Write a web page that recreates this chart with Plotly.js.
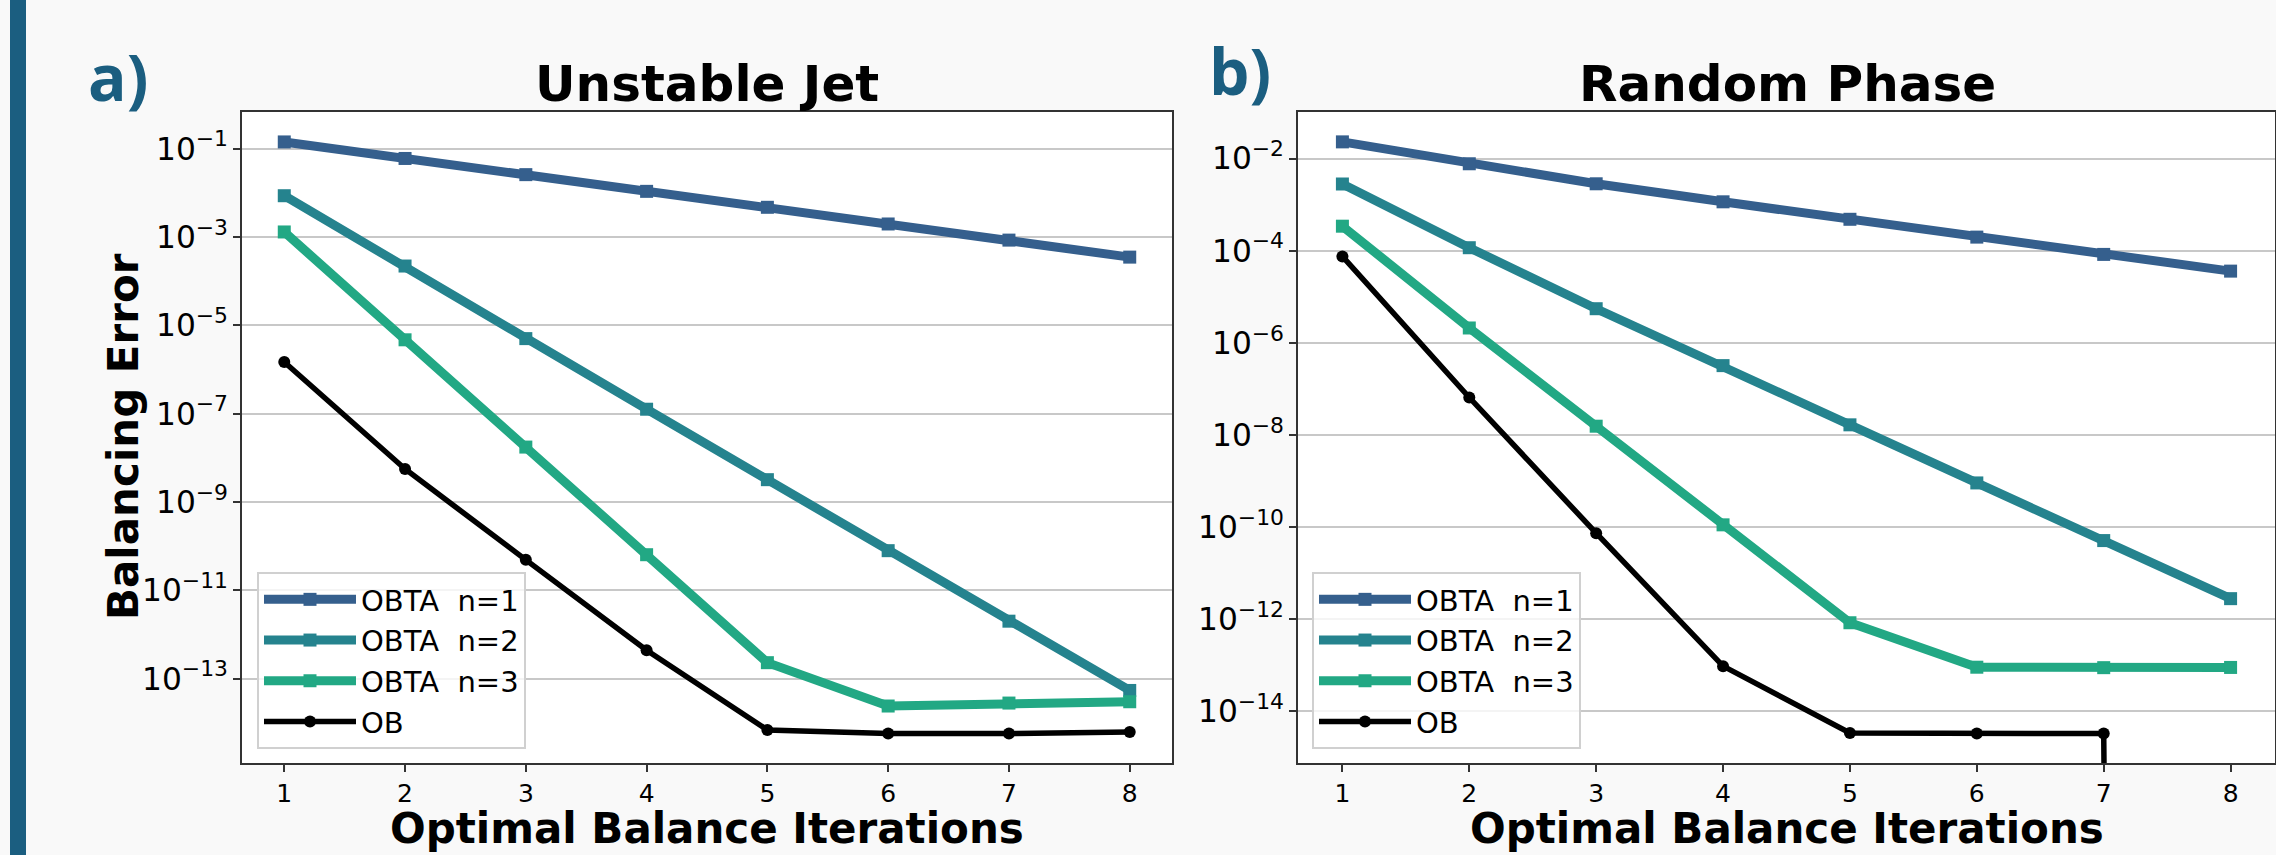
<!DOCTYPE html>
<html>
<head>
<meta charset="utf-8">
<script src="https://cdn.plot.ly/plotly-3.0.1.min.js"></script>
<style>html,body{margin:0;padding:0;background:#f9f9f9;}#chart{width:2276px;height:855px;}</style>
</head>
<body>
<div id="chart"></div>
<script>
// ---- data ----
const iterations = [1, 2, 3, 4, 5, 6, 7, 8];
const seriesNames = ["OBTA\u00a0 n=1", "OBTA\u00a0 n=2", "OBTA\u00a0 n=3", "OB"];
const panelTitles = ["Unstable Jet", "Random Phase"];
const panelLetters = ["a)", "b)"];
const xLabel = "Optimal Balance Iterations";
const yLabel = "Balancing Error";

// Unstable Jet
const ujN1 = [0.142, 0.060, 0.0258, 0.0108, 0.0047, 0.00197, 8.5e-4, 3.5e-4];
const ujN2 = [8.6e-3, 2.2e-4, 5.0e-6, 1.26e-7, 3.2e-9, 7.9e-11, 2.0e-12, 5.4e-14];
const ujN3 = [1.3e-3, 4.7e-6, 1.75e-8, 6.4e-11, 2.3e-13, 2.4e-14, 2.8e-14, 3.0e-14];
const ujOB = [1.48e-6, 5.6e-9, 4.9e-11, 4.4e-13, 6.9e-15, 5.7e-15, 5.7e-15, 6.2e-15];

// Random Phase
const rpN1 = [0.023, 7.7e-3, 2.83e-3, 1.15e-3, 4.8e-4, 1.97e-4, 8.3e-5, 3.6e-5];
const rpN2 = [2.8e-3, 1.16e-4, 5.5e-6, 3.2e-7, 1.66e-8, 9.1e-10, 5.1e-11, 2.8e-12];
const rpN3 = [3.4e-4, 2.1e-6, 1.55e-8, 1.12e-10, 8.4e-13, 9.1e-14, 8.9e-14, 9.0e-14];
const rpOB = [7.5e-5, 6.5e-8, 7.4e-11, 9.6e-14, 3.4e-15, 3.3e-15, 3.3e-15, 0];

// ---- styling ----
const colors = ["#355f8d", "#25838e", "#22a884", "#000000"];
const W = 2276, H = 855;
const FONT = "DejaVu Sans, sans-serif";

// log axes clip non-positive values to a tiny number (as matplotlib does)
const clip = arr => arr.map(v => (v > 0 ? v : 1e-300));

function makeTraces(series, xa, ya, legendId) {
  return series.map((ys, i) => {
    const isOB = i === 3;
    return {
      x: iterations, y: clip(ys), xaxis: xa, yaxis: ya,
      type: "scatter", mode: "lines+markers",
      name: seriesNames[i], legend: legendId,
      line: {color: colors[i], width: isOB ? 5.5 : 9},
      marker: {symbol: isOB ? "circle" : "square", size: isOB ? 12 : 13, color: colors[i]},
      cliponaxis: true
    };
  });
}

const traces = [
  ...makeTraces([ujN1, ujN2, ujN3, ujOB], "x", "y", "legend"),
  ...makeTraces([rpN1, rpN2, rpN3, rpOB], "x2", "y2", "legend2")
];

const px = v => v / W;
const py = v => (H - v) / H;

const xCommon = {
  range: [0.65, 8.35], tickmode: "array", tickvals: iterations, ticktext: iterations.map(String),
  showgrid: false, zeroline: false, showline: true, mirror: true,
  linecolor: "#333333", linewidth: 2, ticks: "outside", ticklen: 7, tickwidth: 2, tickcolor: "#333333",
  tickfont: {family: FONT, size: 25, color: "#000"}
};
const yCommon = {
  type: "log", dtick: 2, exponentformat: "power", showexponent: "all",
  showgrid: true, gridcolor: "#c8c8c8", gridwidth: 2, zeroline: false,
  showline: true, mirror: true, linecolor: "#333333", linewidth: 2,
  ticks: "outside", ticklen: 7, tickwidth: 2, tickcolor: "#333333",
  tickfont: {family: FONT, size: 25, color: "#000"}
};

const legendCommon = {
  yanchor: "top", xanchor: "left", y: py(572),
  bgcolor: "rgba(255,255,255,0.8)", bordercolor: "#d0d0d0", borderwidth: 2,
  font: {family: FONT, size: 29, color: "#000"}, itemwidth: 92, tracegroupgap: 0
};

const layout = {
  width: W, height: H, margin: {l: 0, r: 0, t: 0, b: 0},
  paper_bgcolor: "#f9f9f9", plot_bgcolor: "#ffffff", showlegend: true,
  xaxis: Object.assign({}, xCommon, {domain: [px(242), px(1172)], anchor: "y"}),
  yaxis: Object.assign({}, yCommon, {domain: [py(763), py(112)], anchor: "x", range: [-14.91, -0.17], tick0: 1}),
  xaxis2: Object.assign({}, xCommon, {domain: [px(1298), px(2275)], anchor: "y2"}),
  yaxis2: Object.assign({}, yCommon, {domain: [py(763), py(112)], anchor: "x2", range: [-15.12, -0.99], tick0: 0}),
  legend: Object.assign({}, legendCommon, {x: px(257)}),
  legend2: Object.assign({}, legendCommon, {x: px(1312)}),
  shapes: [
    {type: "rect", xref: "paper", yref: "paper", x0: px(10), x1: px(26), y0: 0, y1: 1,
     fillcolor: "#1b5e80", line: {width: 0}, layer: "above"}
  ],
  annotations: [
    {text: panelTitles[0], xref: "paper", yref: "paper", x: px(707), y: py(84), xanchor: "center", yanchor: "middle",
     showarrow: false, font: {family: FONT, size: 50, color: "#000", weight: "bold"}},
    {text: panelTitles[1], xref: "paper", yref: "paper", x: px(1787), y: py(84), xanchor: "center", yanchor: "middle",
     showarrow: false, font: {family: FONT, size: 50, color: "#000", weight: "bold"}},
    {text: xLabel, xref: "paper", yref: "paper", x: px(707), y: py(828), xanchor: "center", yanchor: "middle",
     showarrow: false, font: {family: FONT, size: 42, color: "#000", weight: "bold"}},
    {text: xLabel, xref: "paper", yref: "paper", x: px(1787), y: py(828), xanchor: "center", yanchor: "middle",
     showarrow: false, font: {family: FONT, size: 42, color: "#000", weight: "bold"}},
    {text: yLabel, xref: "paper", yref: "paper", x: px(124), y: py(437), xanchor: "center", yanchor: "middle",
     textangle: -90, showarrow: false, font: {family: FONT, size: 42, color: "#000", weight: "bold"}},
    {text: panelLetters[0], xref: "paper", yref: "paper", x: px(86), y: py(76), xanchor: "left", yanchor: "middle",
     showarrow: false, font: {family: "Open Sans, sans-serif", size: 64, color: "#1b5e80", weight: "bold"}},
    {text: panelLetters[1], xref: "paper", yref: "paper", x: px(1207), y: py(70), xanchor: "left", yanchor: "middle",
     showarrow: false, font: {family: "Open Sans, sans-serif", size: 64, color: "#1b5e80", weight: "bold"}}
  ]
};

Plotly.newPlot("chart", traces, layout, {displayModeBar: false, staticPlot: true});
</script>
</body>
</html>
